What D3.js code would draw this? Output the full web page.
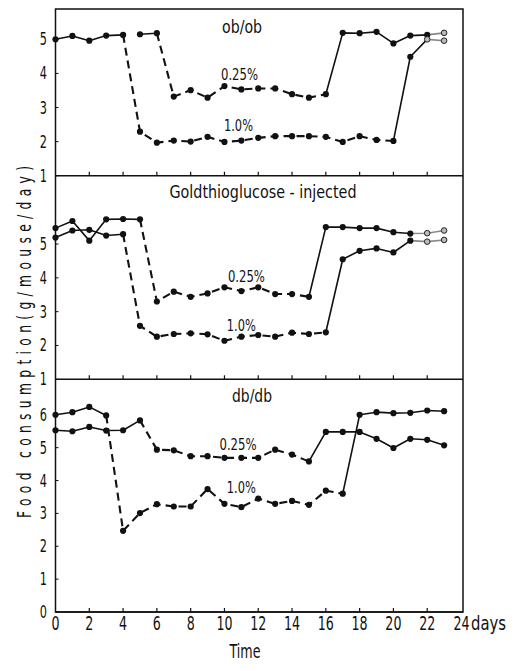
<!DOCTYPE html>
<html>
<head>
<meta charset="utf-8">
<script src="https://cdn.jsdelivr.net/npm/d3@7"></script>
<style>
  html, body { margin: 0; padding: 0; background: #fff; }
  svg { display: block; }
  text { font-family: "DejaVu Sans Condensed", "Liberation Sans Narrow", "Roboto", sans-serif; fill: #111; }
</style>
</head>
<body>
<svg id="chart" width="514" height="671"></svg>
<script>
// ---------------- data ----------------
const days = [0,1,2,3,4,5,6,7,8,9,10,11,12,13,14,15,16,17,18,19,20,21,22,23];
const xTicks = [0,2,4,6,8,10,12,14,16,18,20,22,24];
const seriesNames = ["0.25%", "1.0%"];
const panelTitles = ["ob/ob", "Goldthioglucose - injected", "db/db"];

// ob/ob
const obob025 = [null,null,null,null,null,5.15,5.18,3.32,3.51,3.29,3.63,3.53,3.56,3.56,3.39,3.29,3.39,5.19,5.18,5.22,4.88,5.11,5.13,5.19];
const obob10  = [5.00,5.10,4.96,5.11,5.13,2.29,1.97,2.03,2.00,2.14,1.99,2.03,2.11,2.16,2.16,2.16,2.14,1.99,2.16,2.05,2.02,4.49,5.00,4.96];
// Goldthioglucose-injected
const gtg025  = [5.47,5.68,5.10,5.73,5.74,5.73,3.30,3.59,3.44,3.54,3.72,3.61,3.72,3.52,3.52,3.44,5.50,5.50,5.47,5.47,5.35,5.31,5.32,5.40];
const gtg10   = [5.19,5.40,5.42,5.25,5.29,2.58,2.26,2.34,2.36,2.33,2.14,2.26,2.31,2.26,2.38,2.34,2.39,4.55,4.80,4.87,4.75,5.10,5.07,5.12];
// db/db
const dbdb025 = [5.53,5.50,5.63,5.52,5.53,5.83,4.94,4.92,4.74,4.74,4.69,4.69,4.69,4.94,4.79,4.58,5.48,5.48,5.48,5.27,4.99,5.27,5.24,5.07];
const dbdb10  = [6.00,6.08,6.24,5.98,2.47,3.01,3.28,3.21,3.21,3.74,3.29,3.19,3.45,3.29,3.38,3.26,3.69,3.60,6.00,6.08,6.05,6.06,6.13,6.11];

// treatment (dashed) periods: [first day, last day]
const obobTreat025 = [6,16],  obobTreat10 = [4,20];
const gtgTreat025  = [5,15],  gtgTreat10  = [4,16];
const dbdbTreat025 = [5,15],  dbdbTreat10 = [3,17];

// y tick labels per panel
const obobYTicks = [1,2,3,4,5];
const gtgYTicks  = [1,2,3,4,5];
const dbdbYTicks = [0,1,2,3,4,5,6];

// ---------------- layout ----------------
const svg = d3.select("#chart");
const L = 55.5, R = 463, T = 9, B = 612;
const SX = 0.74; // horizontal squeeze to mimic a narrow typeface
const x = d3.scaleLinear().domain([0,24]).range([L, 461]);

function txt(parent, px, py, str, size, anchor, len, sx) {
  const s = sx || SX;
  const t = parent.append("text")
    .attr("transform", `translate(${px},${py}) scale(${s},1)`)
    .attr("text-anchor", anchor || "start")
    .attr("font-size", size)
    .text(str);
  if (len) t.attr("textLength", len / s).attr("lengthAdjust", "spacingAndGlyphs");
  return t;
}

const panels = [
  { title: panelTitles[0], titleLen: 40, y: d3.scaleLinear().domain([1,5.89]).range([175.7, T]),
    s: [obob025, obob10], treat: [obobTreat025, obobTreat10], ticks: obobYTicks,
    titlePos: [11.04, 5.18], labelPos: [[10.89,3.81],[10.83,2.31]],
    greyFrom: 22, openFrom: [23, 22] },
  { title: panelTitles[1], titleLen: 187, y: d3.scaleLinear().domain([1,7.02]).range([379.3, 175.7]),
    s: [gtg025, gtg10], treat: [gtgTreat025, gtgTreat10], ticks: gtgYTicks,
    titlePos: [12.28, 6.36], labelPos: [[11.3,3.88],[11.0,2.43]],
    greyFrom: 21, openFrom: [22, 22] },
  { title: panelTitles[2], titleLen: 40, y: d3.scaleLinear().domain([0,7.08]).range([B, 379.3]),
    s: [dbdb025, dbdb10], treat: [dbdbTreat025, dbdbTreat10], ticks: dbdbYTicks,
    titlePos: [11.63, 6.4], labelPos: [[10.8,4.94],[11.0,3.63]],
    greyFrom: 99, openFrom: [99, 99] }
];
const labelLens = [37, 29];

const lineGen = (y) => d3.line().x(d => x(d.day)).y(d => y(d.v));

panels.forEach((p, pi) => {
  const g = svg.append("g");
  const [y0] = p.y.range();

  // panel bottom line with x ticks pointing up
  g.append("line").attr("x1", L).attr("x2", R).attr("y1", y0).attr("y2", y0)
    .attr("stroke", "#111").attr("stroke-width", 1.4);
  xTicks.slice(1, -1).forEach(t => {
    g.append("line").attr("x1", x(t)).attr("x2", x(t)).attr("y1", y0).attr("y2", y0 - 4)
      .attr("stroke", "#111").attr("stroke-width", 1.2);
  });

  // y ticks and labels
  p.ticks.forEach(t => {
    g.append("line").attr("x1", L).attr("x2", L + 3).attr("y1", p.y(t)).attr("y2", p.y(t))
      .attr("stroke", "#111").attr("stroke-width", 1);
    txt(g, 47, p.y(t) + 6, t, 17, "end");
  });

  // title
  txt(g, x(p.titlePos[0]), p.y(p.titlePos[1]), p.title, 17, "middle", p.titleLen);

  // series
  p.s.forEach((vals, si) => {
    const pts = days.map((d, i) => ({ day: d, v: vals[i] }));
    const tr = p.treat[si];
    const segs = [];
    for (let i = 0; i < pts.length - 1; i++) {
      const a = pts[i], b = pts[i + 1];
      if (a.v == null || b.v == null) continue;
      const dashed = a.day >= tr[0] && b.day <= tr[1];
      const grey = a.day >= p.greyFrom;
      const style = dashed ? "d" : (grey ? "g" : "s");
      const last = segs[segs.length - 1];
      if (last && last.style === style && last.pts[last.pts.length - 1] === a) last.pts.push(b);
      else segs.push({ style, pts: [a, b] });
    }
    segs.forEach(sg => {
      g.append("path").attr("d", lineGen(p.y)(sg.pts))
        .attr("fill", "none")
        .attr("stroke", sg.style === "g" ? "#888" : "#111")
        .attr("stroke-width", sg.style === "d" ? 2.1 : 1.6)
        .attr("stroke-dasharray", sg.style === "d" ? "8,5" : null)
        .attr("stroke-linejoin", "round");
    });
    g.selectAll(null).data(pts.filter(d => d.v != null)).enter().append("circle")
      .attr("cx", d => x(d.day)).attr("cy", d => p.y(d.v))
      .attr("r", d => d.day >= p.openFrom[si] ? 2.8 : 3.1)
      .attr("fill", d => d.day >= p.openFrom[si] ? "#bbb" : "#111")
      .attr("stroke", d => d.day >= p.openFrom[si] ? "#222" : "none")
      .attr("stroke-width", 1);
    txt(g, x(p.labelPos[si][0]), p.y(p.labelPos[si][1]), seriesNames[si], 16.5, "middle", labelLens[si]);
  });
});

// outer frame
svg.append("rect").attr("x", L).attr("y", T).attr("width", R - L).attr("height", B - T)
  .attr("fill", "none").attr("stroke", "#111").attr("stroke-width", 1.5);

// x tick labels
xTicks.forEach(t => {
  txt(svg, x(t) + (t === 24 ? 0.5 : 0), 630, t, 19, "middle");
});
txt(svg, 471, 630, "days", 19, "start", 35);

// axis titles
txt(svg, 245, 658, "Time", 19, "middle", 31, 0.85);
svg.append("text").attr("transform", `translate(31,342) rotate(-90) scale(0.72,1)`)
  .attr("text-anchor", "middle").attr("font-size", 19)
  .attr("textLength", 352 / 0.72).attr("lengthAdjust", "spacing")
  .text("Food consumption(g/mouse/day)");
</script>
</body>
</html>
